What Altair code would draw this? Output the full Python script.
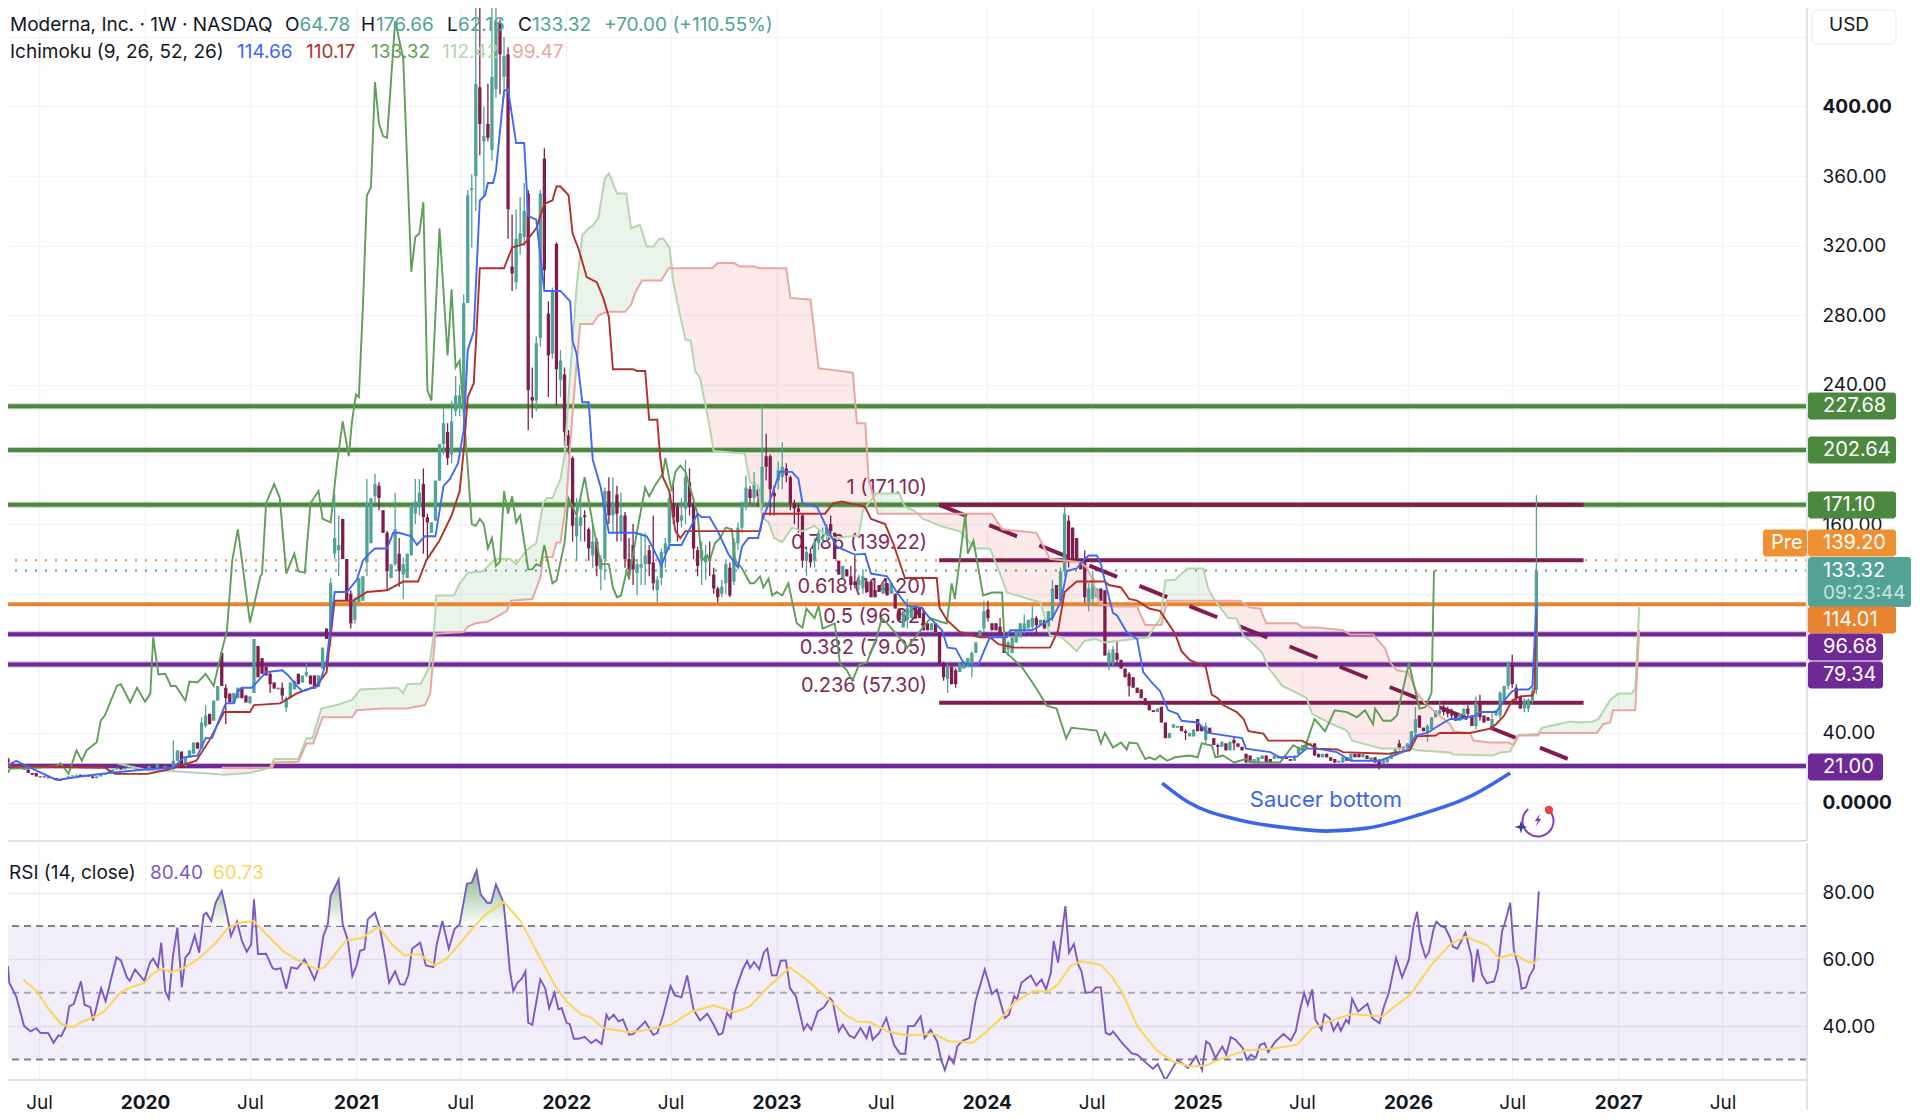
import altair as alt
import numpy as np
import pandas as pd

# ---- candles: (week since 2020-01-01, open, close[, high, low]) ----
candles_2019 = [(-34,25,23,26,22),(-33,23,22),(-32,22,21),(-31,21,20),(-30,21,19),(-29,19,17),(-28,17,16),(-27,17,15),(-26,15,14.5),(-25,15,14.5),(-24,14.5,14),(-23,14,14.6),(-22,14,13),(-21,13,12.6),(-20,13,14),(-19,14,15),(-18,15,15.6),(-17,15.5,16),(-16,16,15),(-15,15,16),(-14,16,15),(-13,15,14),(-12,14,15),(-11,15,16),(-10,16,17),(-9,17,18),(-8,18,19),(-7,19,20),(-6,20,19),(-5,19,20),(-4,20,21),(-3,21,20),(-2,20,19),(-1,19,20),(0,20,19),(1,19,21),(2,21,20),(3,20,22),(4,22,20),(5,20,21),(6,21,20)]
candles_2020 = [(7,19.5,24,35.6,18),(8,24,30),(9,29.3,20),(10,21,26),(11,26,30),(12,28,34.5),(13,34.5,31),(14,31,46,49,31),(15,44,50,56,43),(16,51,45),(17,47,58.6),(18,58.6,67),(19,86,67),(20,66,60,68,45),(21,62.6,57.5),(22,57,63),(23,60,66),(24,66,60),(25,61.5,57.5),(26,57,61),(27,63,94),(28,90,72),(29,83,74),(30,78,73),(31,74,68,75,63),(32,69,65.5),(33,65,66),(34,66,61.5,69,58.6),(35,54.6,60,61,52),(36,60,69),(37,65,70),(38,74,68),(39,69,73),(40,73,75,80,72),(41,73,68),(42,73,65.5),(43,66.7,73),(44,77,89),(45,100,94),(46,100,126,129,90),(47,143,152,177,140),(48,145,148,165,130),(49,163,140),(50,140,116),(51,120,103,122,100),(52,105,116,118,103)]
candles_2021a = [(53,115,129),(54,116,130),(55,138,172,186,130),(56,149,175),(57,176,183,189,172),(58,182,175,184,168),(59,168,155),(60,155,133,156,122),(61,129,137),(62,137,157,178,136),(63,143,133,152,124),(64,131,137,141,117),(65,129,143),(66,142,171),(67,166,173,186,160),(68,170,178,186,165),(69,183,164,192,143),(70,164,161,166,140),(71,155,161),(72,162,185),(73,185,206),(74,206,218,227,200),(75,213,198,218,194),(76,200,219,231,195),(77,225,234,245,222),(78,227,234,240,222),(79,229,287,292,225),(80,287,349,352,300),(81,352,353,361,319),(82,360,413,461,340),(83,411,390,461,372),(84,380,383,400,348),(85,390,382,413,380),(86,375,417,461,369),(87,410,449,461,405),(88,448,430,450,407),(89,417,429,440,405),(90,430,341,434,324),(91,308,304,338,294),(92,299,324,341,295),(93,321,327,348,315),(94,325,340,356,320),(95,350,237,352,214),(96,233,231,250,221),(97,231,264,268,225),(98,267,350,352,262),(99,370,306,376,294),(100,281,257,288,233),(101,258,294,296,255),(102,321,249,322,228),(103,243,254,260,233),(104,246,213,250,205)]
candles_2022 = [(105,211,205,214,200),(106,198,159,199,150),(107,153,164,175,139),(108,159,164,175,150),(109,165,164,168,150),(110,157,146,158,139),(111,142,150,160,135),(112,150,136,152,130),(113,134,140,142,122),(114,140,179,181,128),(115,179,165,187,160),(116,165,172,187,155),(117,177,166,182,150),(118,155,165,178,150),(119,165,140,167,135),(120,140,134,152,128),(121,148,134,160,125),(122,132,137,140,119),(123,135,137,155,125),(124,137,142,155,125),(125,145,137,148,130),(126,138,126,165,122),(127,122,128,130,115),(128,129,144,146,125),(129,143,149,152,135),(130,149,175,178,145),(131,172,164,185,160),(132,170,161,172,150),(133,162,165,175,158),(134,169,187,197,160),(135,184,170,192,165),(136,172,146,175,140),(137,145,136,147,130),(138,140,145,150,125),(139,138,142,148,128),(140,140,139,150,130),(141,131,123,135,120),(142,123,118,124,115),(143,120,124,128,118),(144,126,137,139,120),(145,135,119,138,118),(146,127,150,152,125),(147,149,158,161,145),(148,158,171,173,155),(149,170,181,188,168),(150,180,175,182,172),(151,175,184,190,172),(152,180,176,182,170)]
candles_2023 = [(153,170,193,228,168),(154,199,193,212,185),(155,199,180,200,165),(156,178,176,182,165),(157,185,191,196,180),(158,187,193,207,180),(159,192,188,195,184),(160,187,172,188,168),(161,172,169,174,160),(162,169,167,172,155),(163,165,139,166,135),(164,139,144,146,130),(165,143,138,146,135),(166,139,149,152,135),(167,149,155,157,145),(168,152,153,158,148),(169,154,158,160,150),(170,160,156,165,154),(171,155,140),(172,139,131),(173,129,136),(174,134,130),(175,130,125,136,122),(176,127,125,142,123),(177,125,128,131,122),(178,123,130,134,120),(179,127,121),(180,127,118),(181,122,118),(182,125,121),(183,120,126),(184,126,119),(185,120,126),(186,120,111.5),(187,111.5,104.6),(188,100.6,110),(189,105,112,117,100),(190,106,113),(191,113,105.7),(192,112,106),(193,109,99),(194,103,99),(195,99,103),(196,103,98),(197,98,80),(198,80,72,81,70),(199,71,78,80,63),(200,78,68),(201,76,68,77,66),(202,75,80),(203,77,81),(204,78,83)]
candles_2024 = [(205,79,86,87,72),(206,86,92),(207,95,99),(208,100,110,116,98),(209,111,106,116,104),(210,103,99),(211,103,99),(212,101,97,106,96),(213,96,86),(214,88,92,93,84),(215,86,95),(216,92,99),(217,95,103),(218,99,103,108,97),(219,100,105),(220,101,106,113,99),(221,106,102,107,96),(222,102,105),(223,105,100),(224,101,110),(225,106,123,128,104),(226,125,117),(227,116,133,135,114),(228,133,166,170,130),(229,162,139,165,135),(230,158,139),(231,152,139),(232,139,134),(233,138,118,145,115),(234,115,123,126,110),(235,117,129,133,114),(236,118,123),(237,123,116),(238,122,84.5),(239,80,86,88,76),(240,80,88,90,78),(241,86,82,93,80),(242,82,77),(243,77,72),(244,74,67,75,61),(245,72,66),(246,66,63),(247,65,60),(248,60,56),(249,57,53),(250,53,52),(251,52,54),(252,55,46),(253,46,37),(254,37,40),(255,43,45),(256,43,44),(257,44,41),(258,41,40,42,36)]
candles_2025 = [(259,38,40),(260,38,42),(261,48,41),(262,44,41),(263,36,44,46,34),(264,43,40),(265,37,33),(266,33,32,34,27),(267,32,35),(268,34,30),(269,30,35),(270,36,34,38,30),(271,34,32),(272,32,30),(273,28,23),(274,27,23),(275,23,25),(276,23,26),(277,25,27),(278,27,23),(279,25,23),(280,25,27),(281,26,25.5),(282,25.5,25),(283,26,25),(284,25,24),(285,24,27),(286,28,32),(287,30,33),(288,31,34),(289,33,34),(290,34,27),(291,28,26),(292,26,28),(293,28,26),(294,26,24),(295,25,23),(296,23,24),(297,23,26),(298,26,24),(299,24,28),(300,28,26),(301,28,26),(302,26,28),(303,27,25),(304,24,26),(305,26,23),(306,24,22,25,19),(307,22,25),(308,23,26),(309,25,28),(310,27,31)]
candles_2026 = [(311,34,31,36,30),(312,32,30),(313,30,34),(314,32,41),(315,40,48,55,38),(316,50,43),(317,43,41),(318,40,44,45,35),(319,42,49),(320,49,53),(321,51,53,58.6,50),(322,54,52,56,50),(323,52,51,55,49),(324,51,50,54,48),(325,51,47),(326,47,51),(327,50,54),(328,54,51,56,49),(329,50,44),(330,44,57,61,42),(331,57,49,62,47),(332,50,46),(333,49,47),(334,44,48,52,42),(335,50,53),(336,50,63,64,48),(337,58.6,67),(338,67,80,81,65),(339,79,68,85,66),(340,66,60,68,58),(341,61,54),(342,54,58.6,60,52),(343,54,59,60,52),(344,58.6,64,66,56),(345,64.78,133.32,176.66,62.16)]

# ---- ichimoku polylines, (week, price) ----
tenkan_a = [(-34,21),(-32,24),(-28,19.5),(-22,13),(-16,15),(-9,17),(0,19),(7,20),(9.6,26),(13,27),(15,37),(16.6,37),(18.6,49),(20,57),(22,57),(23,64),(24,66),(26.5,66),(30,75),(34,76),(35.5,73),(37.6,67),(39,64),(43,67),(44,74),(45,81.6),(47,121),(50,121),(52.5,128),(54,139),(56,144),(57,146),(60,146),(61.5,155),(63,155),(66,153),(67.4,148),(69.4,153),(72,153),(74,182),(75.6,186),(77.6,195),(79,214),(80,260),(81.5,271),(83,346),(84.3,349),(85,356),(86.3,356),(87,363),(89,409),(90,410),(92,379),(94,379),(95,337),(97,335),(99,294),(103,294),(105.4,288),(106,265),(107,258),(108.4,230),(110,230),(111,197),(113,181),(115,155),(121.5,155),(124.4,153),(126,146),(128,136),(130,148),(133,148),(137,166),(138,164),(140,164),(142,156),(144.6,143),(147,135),(148,147),(149.6,152),(152,152),(153,162),(155,174),(157.4,190),(160.4,190),(162,186),(163,172),(166.6,170)]
tenkan_b = [(169.4,156),(171.5,147),(176,142.5),(178.5,143),(180,131.6),(184,130),(186.4,120.7),(189,113),(192.6,112),(194,107.5),(197.6,99),(199,89),(201,88.5),(203,80),(206.6,79),(208,87),(209.5,95),(213.7,95),(214.5,99),(220,99),(225,106),(227,115),(228.6,133),(231,134.5),(232.6,139),(234,142),(236,142),(237,137),(239,118),(240,109),(241,107.5),(243.4,98),(246,94),(247.5,75),(249.6,69),(251.7,64),(253.7,53),(256,51),(257,47),(261,46),(263.6,40),(272,37),(273,31),(279,29),(281.4,26),(285.6,26.4),(288,31),(290.6,31),(295.5,29),(299,24),(306,24),(309.5,27),(313,30),(315,38.5),(318,40),(320.6,44),(323.6,48),(326,48),(330,50),(331,52),(335,52),(337,58.6),(339,64),(341,65),(343,65),(344,67),(345,114.66)]
kijun_a = [(-34,21),(-10,20),(-7.5,16.5),(0.7,16.5),(5.7,19),(12.7,24),(16,36),(19.6,52),(26,52),(27,56),(33.5,57),(37.5,62.6),(42.5,67),(45,75),(47,116),(51.5,116),(55,121),(60,122),(64,127),(67.7,127),(69.7,139),(73,150.6),(76,165),(78,179),(79,202),(80,233),(81.5,241),(83,307),(89,307),(91,319),(94,321),(97,330),(99,344),(101,346),(102,354),(103,354),(105,349),(106,327),(107.5,318),(109.5,302),(112,299),(113.6,290),(115,279),(116,249),(121,249),(122,248),(124,248),(125,220),(127,220),(127.7,199),(128.4,187),(130,179),(131.5,156),(132.7,152),(134,156),(152.5,156),(153.3,166),(168.6,166),(170.6,172),(172.8,173),(178.5,170),(180,163),(183.5,160),(185.5,149),(188.4,129)]
kijun_b = [(196.3,129),(197,112),(198.8,105),(202,98),(207,95),(209.5,95),(211.6,91),(215.7,89),(224.4,89),(226.4,99),(228,121),(231,127),(238,127),(239,125),(242,123.6),(244,117),(246,116),(249,111.5),(251.7,110),(255.4,97),(257,87),(259,82),(263,78),(264.5,62),(266,60),(267.3,56),(270.7,52),(272.4,48),(273.6,41),(277.3,39.6),(278.5,35.6),(286.8,35.6),(289,33),(290.6,31),(295.7,30.5),(297,29),(308,28),(313.6,30),(315.4,38),(320,38.5),(321,40),(328.5,40),(333.5,42.5),(335,45),(337,50),(339,58.6),(341,61),(344,61.5),(344.5,64),(345,110.17)]
chikou_a = [(-34,17),(-33.5,19.5),(-27,20),(-22,21),(-21,22.6),(-19,16.5),(-17,30),(-15.7,24),(-14.5,30),(-12,34.6),(-11,47),(-10,50),(-7,67),(-6,68),(-3.7,57.5),(-2,66),(0,58),(1.3,62.6),(2,95),(3.3,73.6),(5,74),(6.4,67),(7.6,67),(10,58.6),(11,69.5),(13,69),(15,74),(17,67),(19,87),(20.3,99),(21.6,139),(23,157),(26,103.5),(28.6,130),(29,131.6),(30,172),(32,183),(33.4,175),(35,131.6),(37,143),(38,133),(39.6,132),(41,172),(43,179),(44,163),(46,161),(47.6,195),(49,219),(50.5,199),(51.3,219),(52.3,234.5),(53,233),(54,284.6),(55,349),(56,353.6),(57,414),(58,390),(59,383),(60,382),(62,449),(64,428),(66,305),(67,325),(68,327),(69,345),(70,237),(71,231),(73,330),(75,257),(76,295),(77,250),(78,254),(79.4,211),(80,192.6),(81,160),(82,159),(83,163),(84,160),(85,146),(86,152),(87,136),(88,138.5),(89,179),(90,166),(91,176),(92,161),(93,165),(95,134),(96,134),(97,137),(98,136),(99,148),(101,126),(102,127.6),(104,149),(105,175),(107,165),(108,176),(109,187),(111,160),(113,137),(115,137),(116,123.6),(117,118),(118,119),(119.4,133),(120,128.7),(122,156),(124,181),(125,176),(126.4,182),(128.4,189),(129,198),(130.6,179),(131.5,190),(132.7,193.7),(134,190),(137,166),(138,139),(139.4,142),(140,139),(141.3,149),(142.6,152)]
chikou_b = [(144,158),(145.5,157),(146.3,139),(148,134.6),(150,126),(151,126),(152.5,130),(153.3,123.6),(154.6,128.7),(155.5,119),(156.6,121),(158,119),(159.5,126),(161.6,103),(163,100.6),(164,111.5),(166,106),(167,113),(168,100),(171,103),(172.3,80),(174,76),(175.4,70),(177,79),(179,80.5),(181.4,95),(182.7,106),(184,103),(187.7,93),(189,89),(190.6,94),(194.7,106),(197.6,103.6),(198.8,103),(200,126),(200.8,117),(203.4,166),(204,143),(205.4,150.6),(207.8,119),(210,120.7),(212.5,120.7),(213.2,87),(215,83),(217.5,77.6),(221,65.5),(223.6,55.7),(226,54),(228.4,36.8),(229.7,43),(231.8,42.5),(236,41.4),(237,34),(238,40),(240,31.6),(242,34.5),(243.4,30.5),(244,34.5),(246,34),(248,25),(249,26),(250.4,24.7),(251.7,27),(253.4,24),(255.4,26),(259,27),(261,26),(262,34),(264.5,32.8),(265.4,26),(267.3,27),(270,23),(273,25),(274.7,23),(281.4,23),(284.7,33),(287,30),(288,34.5),(290,48),(292.6,41),(295,53),(298,52),(300.5,49),(302.5,53),(304.5,45),(305,54),(307,47),(309,47),(310.4,50),(313.4,80),(316,54),(317.4,54.6),(319,63),(319.6,133.32)]
senkou_a_pts = [(-7,22.6),(0.7,18.4),(7,18),(16,16.7),(19.6,16),(26,17),(31,20),(32,25),(38,25),(40,37),(41.5,37),(43.7,54),(47.5,56),(51.3,59),(53.3,65),(62.7,66),(64,63),(65,68),(68.4,68.4),(70.4,77.6),(71.6,97),(72.2,119),(76.6,119),(78,126),(80,132),(83.8,133),(86.8,140),(90.5,140),(92,137),(94.6,145),(97,149),(98.7,172),(99.6,175),(101,175),(103,186),(104,199),(105.4,247),(107,296),(108.4,326),(110,330),(111,331.6),(112.4,336),(114,358.6),(115,361.5),(117,350),(119.3,350),(120.5,330),(122.7,332),(124.4,319.5),(126,319.5),(127.5,324),(128.5,324),(130,319),(131,299),(132,287),(134,266),(135.3,265.5),(136.4,248),(137.6,244),(139.7,219.5),(141,202),(146,201),(148.7,200.6),(150,184),(152,182),(153,164),(154.6,161),(156,152),(158,149.6),(160.4,158),(163,156),(166,159),(169,153),(171.6,152),(177,153.5),(178,168),(181.4,177.6),(187,177.6),(188.4,170),(190.5,168),(193,163),(197.6,158.6),(202,156),(205.8,146),(209.5,146),(212,131.6),(213.7,120.7),(222,115),(224.4,96),(227.3,95),(231,87),(233,93),(235.6,94),(238,92),(248.7,95),(250,100),(251.7,105.7),(253,127.6),(255.4,128),(258.4,134.5),(262.4,134.5),(263.6,123),(265.3,116),(268.6,106),(270.7,105.7),(272.3,96),(274,93),(277,86),(278.5,77.6),(282,67),(285.6,63),(288,60),(289.4,51),(293.4,46),(298,41.4),(299.3,35.6),(306.7,31),(314,31),(315.3,30),(323.6,28.7),(324.4,27.6),(334.3,27),(336,28.7),(338.5,29.3),(340.3,38.5),(345.4,39.6),(346.4,43),(348.4,44),(353.4,46.5),(356,46),(359,46.5),(360.4,48),(363.3,59),(365.3,62.6),(368.6,62.6),(369.5,65.5),(370.5,112.42)]
senkou_b_pts = [(19,20),(31.5,20),(32,23),(38,23.5),(40,34),(41.7,34),(44,49),(51.3,49),(52.5,53),(59,54),(65,54),(69.4,56),(70.7,62.6),(72,97),(79,98),(80,101),(82,103),(85,104),(89.7,110),(90.7,116),(96,117),(98,129),(98.7,141),(101,141),(102,149.5),(103,149.5),(104.5,173.6),(105.4,206),(106.6,241),(107.9,275),(111,275),(112.4,280),(114.5,282),(119,282),(120.5,286),(121.5,293),(123.2,300),(128,300),(129.8,307),(140.6,307),(142,310),(146,310),(147.5,308),(151,308),(152.5,307),(159,307),(160,290),(165,289),(167,249.6),(175.5,247),(176.5,218),(178.6,218),(179.4,186),(181.7,166),(210,166),(212.5,157),(221,155),(224.4,140),(228.6,139),(232,138),(233.5,135),(234.8,128.7),(236.8,114),(240,112.6),(246,112.6),(248,102),(252,102),(253.4,116),(271.5,116),(274,112),(276.5,111.5),(278,103),(285.6,103),(287,100.6),(290.6,100.6),(297,99),(298.8,96.6),(304.5,96.6),(307.5,88.5),(308.7,80.6),(310.4,76),(313.2,75),(315.4,63),(317.4,57),(321,50),(323.6,45),(324.5,41),(328.5,40),(329.4,35.6),(333.5,34.5),(338,34.5),(339.4,33),(340.5,38.5),(345.4,38.5),(346,40),(360,40),(361.6,45),(363.3,46),(364,53),(369.5,53),(370.5,99.47)]

# ---- RSI polylines ----
rsi_a = [(-34,58),(-33.7,53),(-32,49),(-30,40),(-28.4,38.4),(-27,39.4),(-26,38),(-24,37.9),(-22.7,35),(-21.5,37.2),(-20.8,37),(-19.6,40),(-18.8,46),(-17.7,46.6),(-15.9,53.4),(-15,46.4),(-13.6,45.7),(-12.9,41.6),(-10.9,51.4),(-9.8,47.4),(-8.6,53.4),(-7.1,60.6),(-6,59.7),(-4.5,54.6),(-3.8,53.6),(-2.5,57),(-0.2,53.6),(1.2,59),(2,60.2),(3.2,57.6),(4,65),(5,50.4),(5.9,48.2),(6.9,61),(8,69.5),(9.1,51.7),(10,60.6),(11,62),(12.3,67.2),(13.4,62),(14.5,73.3),(15.2,74),(16.4,71.5),(17.5,77),(19,80.5),(20.2,74),(21.3,67),(22.8,71.3),(24,65.5),(25.2,62.3),(26.3,64.5),(27,78),(28,61.6),(30,61.7),(31.6,57.4),(32.4,57),(33.6,57.4),(35,51.2),(36.2,57.6),(37.7,57.2),(39.5,60),(40.7,57.4),(42,54),(43,57.4),(44.2,67),(45.3,70.5),(46,79),(48,84),(49,70.5),(50.3,65.5),(51.4,55),(52.4,58),(53.3,62.6),(54.4,63),(55.2,72),(57,74),(58.2,69.5),(59.4,61.5),(60.5,53),(62,56.4),(63.2,52.6),(64.3,52.4),(65.3,55.4),(66.2,63.2),(68.2,65),(69.6,58.2),(71.5,57.7),(72.3,64.4),(73.7,71.5),(75.3,63.2),(76.7,69),(78,70.5),(79.8,82.7),(81,83),(82.2,86.7),(83.2,79.5),(84.8,77),(85.8,77),(87,82.5),(88.9,77),(89.8,65.5)]
rsi_b = [(90.4,57),(91.3,50.4),(92.3,53),(93.4,54.2),(94.3,56.4),(95,41),(96,40.4),(98,54),(99.2,51.4),(100.2,45.4),(101.5,50),(102.5,45),(103.3,45.4),(104.5,41),(105.3,40.6),(106.3,36.2),(107.5,36.2),(109,36.8),(110.6,34.9),(111.8,35.9),(113.2,34.6),(114.4,43.4),(115,42),(116.2,43.4),(117.4,41.4),(118.5,42),(120,37.4),(121,37.6),(124,41.4),(126,37.4),(127,37.9),(128.5,43.4),(130.3,52),(131.4,49.2),(133,48.6),(134.4,55.2),(136,44.9),(137.6,41.7),(139.4,43.7),(141,40.4),(142.2,37.4),(143.2,37.9),(144.3,44),(145.2,42.4),(146.3,50.4),(148.2,57),(149.3,59.6),(150,57.4),(151,59.2),(152.3,57),(153.4,62),(154.3,63.2),(155.4,55.2),(156.6,55.2),(157.6,59.6),(158.9,59.7),(159.9,51.4),(161.4,48.9),(163.3,38.9),(164.2,40.6),(165.2,38.9),(166.8,44.4),(168.3,45.6),(169.8,48.4),(170.5,47.4),(172,38.4),(173,40.4),(174.6,37.2),(175.9,36.4),(177.4,39.4),(178.9,36.4),(179.7,40),(180.4,35.9),(182,37.9),(183.8,42.4),(185.7,34.4),(187.2,31.7),(188.5,31.7),(189.2,40),(190.7,40),(192.3,42.9),(193.3,36.4),(194.8,38.9),(196.4,35.4),(197.4,29.9),(198.3,26.8),(199.4,30.9),(200.5,28.8),(201.4,33.9),(202.1,34.9)]
rsi_c = [(202.9,35.7),(204.4,36.4),(205.9,47.4),(208.2,57),(210,49.6),(211.2,51),(213.2,42.4),(214.2,43.4),(215.5,49),(216.2,48),(217.3,53),(219.6,55.2),(221,52.2),(222.3,54),(223.4,51),(224.6,56),(225.3,65.5),(226.4,59),(228.2,76),(229.1,62),(230.3,64.6),(231.4,58.4),(232.2,56.4),(233.2,50),(234.7,50.2),(235.8,51.6),(237,51.6),(238.2,38),(239.3,37.4),(240,38.4),(242.3,34.9),(244.6,31.9),(246.1,31.4),(248,29.2),(249.9,27.2),(251.1,28.6),(253,23.8),(254.5,26.8),(256,29.8),(258.6,27.5),(260.6,31),(262.1,26.8),(263.1,35.4),(264,34.6),(265.4,30.4),(267.1,33.9),(268.1,31.4),(269.2,36.7),(270.4,35.9),(272.2,33.4),(273.2,29.9),(274.2,31.4),(275.4,30.4),(276.5,34.4),(277.6,34.9),(278.5,32.2),(280.3,35.4),(282.3,37.6),(284.1,35.7),(285.3,38.4),(286.4,45),(287.4,50),(288.3,46.4),(289.4,51),(290.2,41.9),(291.7,38.9),(292.4,43.6),(293.7,42.4),(294.7,38.6),(295.8,40.9),(296.5,38.6),(297.8,41.9),(298.5,40.9),(299.3,48.2),(300.8,44.4),(303.1,46.7),(304.3,42.4),(306.1,40.9),(307.2,45.9),(308.4,50),(310.2,60.4),(311.7,54.6),(313.4,60),(314.5,70),(315.4,74.3),(316.3,65.5),(317.5,60.6),(318.3,62),(319.5,69),(320.2,71.3),(321.3,70),(322.4,69.5),(323.6,66.5),(324.3,63.8),(325.4,63.2),(327.4,68),(328.9,61),(329.3,53.2),(330.4,63),(331.5,55.4),(332.7,52.9),(334.5,53.4),(335.4,57),(336.5,68.5),(337.2,71),(338.5,77),(339.4,63),(340.6,57.4),(341.3,51.2),(342.4,51.6),(343.3,55),(344.4,57.4),(345.6,80.4)]
rsi_ma_pts = [(-30.2,53.9),(-26.8,50.4),(-23.8,44.9),(-20.8,40.6),(-18,39.6),(-15.5,41.4),(-12.4,42.9),(-10.1,44.4),(-6.3,49.9),(-4,51.4),(-0.2,52.9),(2,55.9),(4.3,57.2),(6.6,56.2),(9.6,57.4),(12.6,59.6),(17.2,64.5),(20.5,69.3),(23.3,71),(27,71.5),(30.9,66.5),(34.7,62),(38.4,59.4),(42.7,57),(44.5,57.6),(49.8,65.7),(53.6,66.3),(57.9,69.8),(61.2,64.5),(64.3,61.2),(68,61.6),(71.9,58.2),(74.9,60.4),(81,69),(84,73),(88.9,77.3),(93.1,71.5),(97.7,61),(101.5,52.4),(104.5,47.4),(108.3,43.4),(110.6,42.6),(113.6,39.4),(119.7,38.2),(123.5,38.7),(130.3,40.4),(135.6,44.4),(141,46.2),(146.3,44.2),(150,45.9),(153.8,50.9),(159.9,57.6),(164.5,53.4),(169,48.6),(173.6,43.4),(176.6,41.4),(179.7,41.2),(184.2,38.4),(188.8,37.2),(195.6,37.7),(199.4,35.4),(202.1,35.4),(205.1,34.9),(208.2,37.9),(212.7,42.9),(215.8,47.4),(220.3,50.4),(224.1,50.4),(226.4,52.6),(229.4,57.9),(232,59.4),(237,58.4),(240,54.4),(242.3,50),(246.1,39.9),(250.7,32.9),(254.5,29.6),(259,27.9),(262.8,28.1),(267.4,30.4),(272.7,32.7),(279.5,33.2),(285.6,34.4),(289.4,39.4),(294.7,41.9),(299.3,43.6),(306.9,42.9),(309.9,45.9),(313.7,49.4),(319,58.4),(323.6,64.5),(327.4,66.8),(332.7,64.3),(335.7,60.4),(339.5,61.7),(342.6,59.4),(344.5,58.9),(345.6,60.7)]

# ---- levels and annotations ----
green_levels = [227.68, 202.64, 171.10]
orange_levels = [114.01]
purple_levels = [96.68, 79.34, 21.00]
fib_labels = [("1 (171.10)",171.10),("0.786 (139.22)",139.22),("0.618 (114.20)",114.20),("0.5 (96.62)",96.62),("0.382 (79.05)",79.05),("0.236 (57.30)",57.30)]
fib_lines = [171.10,139.20,57.30]
fib_weeks = [196.9,356.7]
trend_weeks = [196.9,354.3]
trend_prices = [171.1,23.6]
saucer_weeks = [252.2,258.6,271.3,283.9,292.8,303,315.7,328.3,338.5]
saucer_prices = [11.2,0.3,-10,-14.7,-16.4,-14.7,-7.2,3.2,17]
price_ticks = [0,40,80,120,160,200,240,280,320,360,400,440]
rsi_ticks = [40,60,80]
years = [2020,2021,2022,2023,2024,2025,2026,2027]

TEAL="#52a297"; MAROON="#7f1d4f"; GREEN="#4c883f"; ORANGE="#e8842f"; PURPLE="#6e2996"
BLUE="#3f69f2"; RED="#b1312a"; CHIKOU="#5f9f58"; SA="#b3d6ae"; SB="#e9a7a1"; FONT="Inter"; INK="#131722"; EDGE="#e0e3eb"
W,H1,H2=1799,833,237
base=pd.Timestamp("2020-01-01")
def d(w): return (base+pd.to_timedelta(float(w)*7,unit="D")).strftime("%Y-%m-%dT%H:%M:%S")
def frame(pts): return pd.DataFrame({"d":[d(a) for a,_ in pts],"p":[b for _,b in pts]})

xs=alt.Scale(domain=[d(-34),d(412.1)])
ys=alt.Scale(domain=[-22.1,456.6],nice=False,zero=False)
rs=alt.Scale(domain=[23.84,94.9],nice=False,zero=False)
ONE=pd.DataFrame({"a":[0]})
def solo(mark_fn,**enc): return mark_fn(alt.Chart(ONE)).encode(**enc)
def edge(x0,x1,y0,y1): return solo(lambda c:c.mark_rect(color=EDGE),x=alt.value(x0),x2=alt.value(x1),y=alt.value(y0),y2=alt.value(y1))

grid_dates=["2019-07-01T00:00:00"]
for y in years:
    grid_dates+= [f"{y}-01-01T00:00:00",f"{y}-07-01T00:00:00"]

top_axis_x=alt.Axis(values=grid_dates,grid=True,gridColor="#f1f3f9",gridWidth=1.6,labels=False,ticks=False,domain=False,title=None)
top_axis_y=alt.Axis(orient="right",values=price_ticks,grid=True,gridColor="#f1f3f9",gridWidth=1.6,ticks=False,domain=False,title=None,labelPadding=15,labelFontSize=19,labelFont=FONT,labelColor=INK,
    labelExpr="datum.value==440||datum.value==80||datum.value==120||datum.value==200?'':(datum.value==0?'0.0000':format(datum.value,'.2f'))",
    labelFontWeight={"condition":{"test":"datum.value==400||datum.value==0","value":700},"value":400})
bot_axis_x=alt.Axis(values=grid_dates,grid=True,gridColor="#f1f3f9",gridWidth=1.6,ticks=False,domain=False,title=None,labelPadding=13,labelFontSize=19,labelFont=FONT,labelColor=INK,labelFlush=False,labelOverlap=False,
    labelExpr="month(datum.value)==0?timeFormat(datum.value,'%Y'):'Jul'",
    labelFontWeight={"condition":{"test":"month(datum.value)==0","value":700},"value":400})
bot_axis_y=alt.Axis(orient="right",values=rsi_ticks,grid=True,gridColor="#eceaf4",gridWidth=1.6,ticks=False,domain=False,title=None,labelPadding=15,labelFontSize=19,labelFont=FONT,labelColor=INK,labelExpr="format(datum.value,'.2f')")

X=alt.X("d:T",scale=xs,axis=top_axis_x,title=None)
def YF(f): return alt.Y(f,scale=ys,axis=top_axis_y,title=None)
Y=YF("p:Q")
XB=alt.X("d:T",scale=xs,axis=bot_axis_x,title=None)
RY=alt.Y("p:Q",scale=rs,axis=bot_axis_y,title=None)

layers=[]
# cloud fill (aligned on the union of the read vertices so the band can be drawn)
wk=np.array(sorted(set([a for a,_ in senkou_a_pts if a>=19]+[a for a,_ in senkou_b_pts])))
sa=np.interp(wk,*zip(*senkou_a_pts)); sb=np.interp(wk,*zip(*senkou_b_pts))
cloud=pd.DataFrame({"d":[d(w) for w in wk],"a":sa,"b":sb,"top":np.maximum(sa,sb)})
layers.append(alt.Chart(cloud).mark_area(color="#4c9a4c",opacity=0.11,clip=True).encode(x=X,y=YF("top:Q"),y2="b:Q"))
layers.append(alt.Chart(cloud).mark_area(color="#e0574f",opacity=0.125,clip=True).encode(x=X,y=YF("top:Q"),y2="a:Q"))

# horizontal levels
for vals,col in ((green_levels,GREEN),(orange_levels,ORANGE),(purple_levels,PURPLE)):
    df=pd.DataFrame({"p":vals})
    if col!=ORANGE:
        layers.append(alt.Chart(df).mark_rule(color=col,strokeWidth=6,opacity=0.35,clip=True).encode(y=Y))
    layers.append(alt.Chart(df).mark_rule(color=col,strokeWidth=4,clip=True).encode(y=Y))
layers.append(alt.Chart(pd.DataFrame({"p":[139.2]})).mark_rule(color="#ef8f2e",strokeWidth=2,strokeDash=[2,8],clip=True).encode(y=Y))
layers.append(alt.Chart(pd.DataFrame({"p":[133.32]})).mark_rule(color=TEAL,strokeWidth=2,strokeDash=[2,8],clip=True).encode(y=Y))

# fibonacci
fib_df=pd.DataFrame({"p":fib_lines,"d":d(fib_weeks[0]),"d2":d(fib_weeks[1])})
layers.append(alt.Chart(fib_df).mark_rule(color=MAROON,strokeWidth=4).encode(x=X,x2="d2:T",y=Y))
fib_txt=pd.DataFrame({"t":[a for a,_ in fib_labels],"p":[b for _,b in fib_labels],"d":d(fib_weeks[0])})
layers.append(alt.Chart(fib_txt).mark_text(align="right",baseline="middle",dx=-12,dy=-17,font=FONT,fontSize=20,color="#7f2a56").encode(x=X,y=Y,text="t:N"))
layers.append(alt.Chart(frame(list(zip(trend_weeks,trend_prices)))).mark_line(color=MAROON,strokeWidth=4,strokeDash=[30,24],strokeCap="butt").encode(x=X,y=Y))

# candles
rows=candles_2019+candles_2020+candles_2021a+candles_2022+candles_2023+candles_2024+candles_2025+candles_2026
cdf=pd.DataFrame([{"d":d(r[0]),"o":r[1],"c":r[2],"h":r[3] if len(r)>3 else max(r[1],r[2]),"l":r[4] if len(r)>3 else min(r[1],r[2]),"col":TEAL if r[2]>=r[1] else MAROON} for r in rows])
layers.append(alt.Chart(cdf).mark_rule(strokeWidth=1.3,clip=True).encode(x=X,y=YF("h:Q"),y2="l:Q",color=alt.Color("col:N",scale=None)))
layers.append(alt.Chart(cdf).mark_rule(strokeWidth=3.3,clip=True).encode(x=X,y=YF("o:Q"),y2="c:Q",color=alt.Color("col:N",scale=None)))

# ichimoku lines
for pts,col,sw in ((senkou_a_pts,SA,2),(senkou_b_pts,SB,2),(chikou_a+chikou_b,CHIKOU,1.9),(kijun_a+kijun_b,RED,1.9),(tenkan_a+tenkan_b,BLUE,1.9)):
    layers.append(alt.Chart(frame(pts)).mark_line(color=col,strokeWidth=sw,clip=True).encode(x=X,y=Y))

# saucer
layers.append(alt.Chart(frame(list(zip(saucer_weeks,saucer_prices)))).mark_line(color="#3c66ea",strokeWidth=3.6,interpolate="monotone").encode(x=X,y=Y))
layers.append(alt.Chart(pd.DataFrame({"d":[d(292.8)],"p":[1.4],"t":["Saucer bottom"]})).mark_text(font=FONT,fontSize=22,color="#3c66ea",baseline="middle").encode(x=X,y=Y,text="t:N"))

# legend text
def label(px,py,text,color,size=19,pane=8):
    return solo(lambda c:c.mark_text(text=text,align="left",baseline="middle",font=FONT,fontSize=size,color=color),x=alt.value(px-8),y=alt.value(py-pane))
for px,t,c in ((10,"Moderna, Inc. · 1W · NASDAQ",INK),(285,"O",INK),(299.5,"64.78",TEAL),(361,"H",INK),(376,"176.66",TEAL),(447,"L",INK),(458,"62.16",TEAL),(518,"C",INK),(532,"133.32",TEAL),(604,"+70.00 (+110.55%)",TEAL)):
    layers.append(label(px,25,t,c))
for px,t,c in ((10,"Ichimoku (9, 26, 52, 26)",INK),(237,"114.66",BLUE),(306,"110.17",RED),(371,"133.32",CHIKOU),(442,"112.42",SA),(512,"99.47",SB)):
    layers.append(label(px,52,t,c))

# logo
BOLT="M0.35,-1 L-0.5,0.15 L-0.05,0.15 L-0.35,1 L0.5,-0.2 L0.05,-0.2 Z"
STAR="M0,-1 L0.22,-0.22 L1,0 L0.22,0.22 L0,1 L-0.22,0.22 L-1,0 L-0.22,-0.22 Z"
layers.append(solo(lambda c:c.mark_arc(radius=16.5,radius2=14.5,theta=0.5,theta2=5.6,color="#8a3ab9"),x=alt.value(1538-8),y=alt.value(821-8)))
layers.append(solo(lambda c:c.mark_point(shape=BOLT,size=170,filled=True,color="#8a3ab9",opacity=1),x=alt.value(1538-8),y=alt.value(820-8)))
layers.append(solo(lambda c:c.mark_point(shape=STAR,size=170,filled=True,color="#2d3f9e",opacity=1),x=alt.value(1521-8),y=alt.value(827-8)))
layers.append(solo(lambda c:c.mark_circle(size=70,color="#e8453c",opacity=1),x=alt.value(1549-8),y=alt.value(810-8)))

# pane edges
layers.append(edge(0,W,H1-1,H1+1))
layers.append(edge(W-1,W+1,0,H1))

# right scale tags
def tag(text,L,R,cy,col,h=27,extra=None):
    out=[solo(lambda c:c.mark_rect(color=col,cornerRadius=3),x=alt.value(L-8),x2=alt.value(R-8),y=alt.value(cy-h/2-8),y2=alt.value(cy+h/2-8))]
    out.append(solo(lambda c:c.mark_text(text=text,align="left",baseline="middle",font=FONT,fontSize=20,color="white"),x=alt.value(L+15-8 if text!="Pre" else L+8-8),y=alt.value(cy-8+(-11 if extra else 0))))
    if extra:
        out.append(solo(lambda c:c.mark_text(text=extra,align="left",baseline="middle",font=FONT,fontSize=19,color="#c9e5e0"),x=alt.value(L+15-8),y=alt.value(cy-8+11)))
    return out
layers+=tag("227.68",1808,1896,406,GREEN)
layers+=tag("202.64",1808,1896,450,GREEN)
layers+=tag("171.10",1808,1896,505,GREEN)
layers+=tag("Pre",1763,1807,543,"#ef9133")
layers+=tag("139.20",1808,1896,543,"#ef9133")
layers+=tag("133.32",1808,1911,582,TEAL,h=50,extra="09:23:44")
layers+=tag("114.01",1808,1896,620,ORANGE)
layers+=tag("96.68",1808,1883,647,PURPLE)
layers+=tag("79.34",1808,1883,675,PURPLE)
layers+=tag("21.00",1808,1883,767,PURPLE)
layers.append(solo(lambda c:c.mark_rect(fill="white",stroke="#eff1f6",strokeWidth=1.5,cornerRadius=5),x=alt.value(1812-8),x2=alt.value(1896-8),y=alt.value(2),y2=alt.value(44-8)))
layers.append(label(1829,25,"USD",INK))

top=alt.layer(*layers).properties(width=W,height=H1)

# ---- RSI pane ----
rl=[]
rl.append(alt.Chart(pd.DataFrame({"p":[70],"p2":[30]})).mark_rect(color="#7e57c2",opacity=0.1).encode(y=RY,y2="p2:Q"))
for v,op,sw in ((70,0.95,2),(30,0.95,2),(50,0.6,2)):
    rl.append(alt.Chart(pd.DataFrame({"p":[v]})).mark_rule(color="#787b86",strokeWidth=sw,opacity=op,strokeDash=[7,5],clip=True).encode(y=RY))
peak=pd.DataFrame({"d":[d(a) for a,b in rsi_a],"p":[max(b,70) for a,b in rsi_a],"b":70})
rl.append(alt.Chart(peak).mark_area(clip=True,color=alt.Gradient(gradient="linear",x1=0,x2=0,y1=0,y2=1,stops=[alt.GradientStop(color="#5c9f60",offset=0),alt.GradientStop(color="#ffffff",offset=1)]),opacity=0.75).encode(x=XB,y=RY,y2="b:Q"))
rl.append(alt.Chart(frame(rsi_a+rsi_b+rsi_c)).mark_line(color="#7e57c2",strokeWidth=1.9,clip=True).encode(x=XB,y=RY))
rl.append(alt.Chart(frame(rsi_ma_pts)).mark_line(color="#f8d65f",strokeWidth=2.1,clip=True).encode(x=XB,y=RY))
for px,t,c in ((9,"RSI (14, close)",INK),(150,"80.40","#7e57c2"),(213,"60.73","#f8d65f")):
    rl.append(label(px,872,t,c,pane=842))
rl.append(edge(0,W,H2-1,H2+1))
rl.append(edge(W-1,W+1,0,H2+30))
bottom=alt.layer(*rl).properties(width=W,height=H2)

chart=alt.vconcat(top,bottom,spacing=1).configure_view(stroke=None).properties(padding=0,background="white")
chart.save("out.html",embed_options={"renderer":"svg","actions":False})
